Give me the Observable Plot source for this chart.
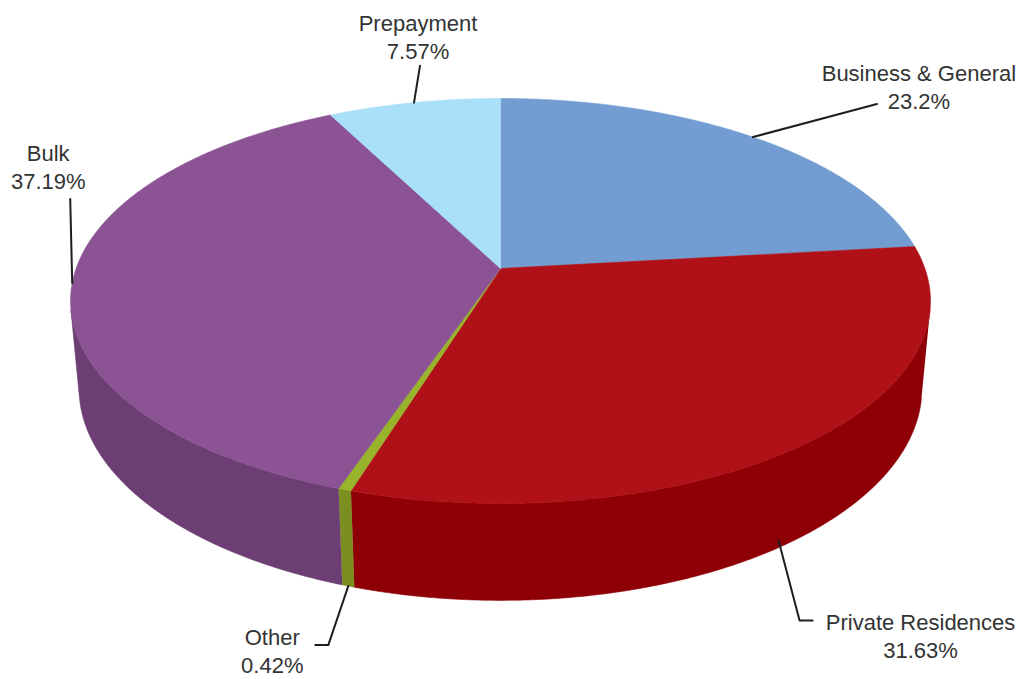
<!DOCTYPE html>
<html>
<head>
<meta charset="utf-8">
<script src="https://cdn.jsdelivr.net/npm/d3@7"></script>
<script src="https://cdn.jsdelivr.net/npm/@observablehq/plot@0.6"></script>
<style>
  html, body { margin: 0; padding: 0; background: #ffffff; }
  #chart svg { display: block; }
</style>
</head>
<body>
<div id="chart"></div>
<script>
// ---------------- data ----------------
const categories = ["Business & General", "Private Residences", "Other", "Bulk", "Prepayment"];
const shares = [23.2, 31.63, 0.42, 37.19, 7.57];
const shareLabels = ["23.2%", "31.63%", "0.42%", "37.19%", "7.57%"];

// ---------------- styles ----------------
const topColors  = ["#729cd2", "#b01118", "#97b42b", "#8b5394", "#a9dff9"];
const sideColors = ["#5a7fb0", "#8e0005", "#7a8f20", "#6d3e73", "#86b6cc"];

// 3D view (perspective camera looking down on a flat cylinder)
const view = { sinTilt: 0.4648, dist: 5.52, thickness: 0.234 };
const pxPerUnit = 424.4, W = 1029, H = 679, cx = 500, cy = 268;

// leader-line / label layout, in pixels relative to the slice anchor
const layout = [
  { shift: 0, zf: 0,    dx: 124, dy: -33, tail: 0,   tx: 42,  ty: -18 },
  { shift: 4, zf: 0.92, dx: 21,  dy: 80,  tail: 13,  tx: 108, ty: 15 },
  { shift: 0, zf: 1,    dx: -20, dy: 59,  tail: -13, tx: -43, ty: 5 },
  { shift: 0, zf: 0,    dx: -2,  dy: -84, tail: 0,   tx: -22, ty: -33 },
  { shift: 0, zf: 0,    dx: 6,   dy: -37, tail: 0,   tx: -2,  ty: -30 }
];

// ---------------- geometry ----------------
const tilt = Math.asin(view.sinTilt);
const S = Math.sin(tilt), C = Math.cos(tilt);
function proj(a, r, z) {
  const x = r * Math.sin(a), y = r * Math.cos(a);
  const dep = view.dist + y * C - z * S;
  return { x: x * view.dist / dep, y: (y * S + z * C) * view.dist / dep };
}
const arcs = d3.pie().sort(null).value(d => d)(shares);
const h = view.thickness;
function arcPts(a0, a1, z) {
  const n = Math.max(2, Math.ceil(Math.abs(a1 - a0) / 0.005));
  return d3.range(n + 1).map(i => proj(a0 + (a1 - a0) * i / n, 1, z));
}
// visible outer wall range
const aVis = Math.acos(-1 / (view.dist * C));
const visLo = aVis, visHi = 2 * Math.PI - aVis;

const marks = [];
// side walls
arcs.forEach((arc, i) => {
  const b0 = Math.max(arc.startAngle, visLo), b1 = Math.min(arc.endAngle, visHi);
  if (b1 <= b0) return;
  const pts = [...arcPts(b0, b1, 0), ...arcPts(b1, b0, -h)];
  marks.push(Plot.line(pts, { x: "x", y: "y", fill: sideColors[i], stroke: sideColors[i], strokeWidth: 0.6 }));
});
// top faces
arcs.forEach((arc, i) => {
  const apex = proj(0, 0, 0);
  const pts = [apex, ...arcPts(arc.startAngle, arc.endAngle, 0), apex];
  marks.push(Plot.line(pts, { x: "x", y: "y", fill: topColors[i], stroke: topColors[i], strokeWidth: 0.6, strokeLinejoin: "round" }));
});
// leader lines and labels
const labelRows = [];
arcs.forEach((arc, i) => {
  const L = layout[i];
  const mid = (arc.startAngle + arc.endAngle) / 2 + L.shift * Math.PI / 180;
  const a = proj(mid, 1, -h * L.zf);
  const e = { x: a.x + L.dx / pxPerUnit, y: a.y - L.dy / pxPerUnit };
  const pts = [a, e];
  let end = e;
  if (L.tail) { end = { x: e.x + L.tail / pxPerUnit, y: e.y }; pts.push(end); }
  marks.push(Plot.line(pts, { x: "x", y: "y", stroke: "#1e1e1e", strokeWidth: 2 }));
  labelRows.push({
    x: end.x + L.tx / pxPerUnit,
    y: end.y - L.ty / pxPerUnit,
    text: categories[i] + "\n" + shareLabels[i]
  });
});
marks.push(Plot.text(labelRows, {
  x: "x", y: "y", text: "text",
  fontSize: 22, lineHeight: 1.27, fill: "#333333", textAnchor: "middle",
  fontFamily: "Liberation Sans, Arial, Helvetica, sans-serif"
}));

const chart = Plot.plot({
  width: W, height: H, margin: 0,
  x: { domain: [-cx / pxPerUnit, (W - cx) / pxPerUnit], axis: null },
  y: { domain: [-(H - cy) / pxPerUnit, cy / pxPerUnit], axis: null },
  style: { background: "#ffffff" },
  marks
});
document.getElementById("chart").appendChild(chart);
</script>
</body>
</html>
